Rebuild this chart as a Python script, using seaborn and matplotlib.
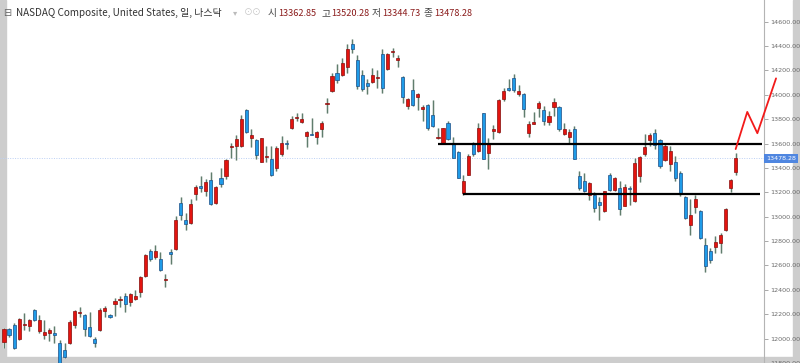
import numpy as np
import matplotlib
matplotlib.use("Agg")
import matplotlib.pyplot as plt
import matplotlib.transforms as mtransforms
from matplotlib.patches import Rectangle
from matplotlib.ticker import FormatStrFormatter
import seaborn as sns

# daily OHLC, oldest first
opens = [
    11973, 12080, 12109, 12000, 12109, 12104, 12236, 12060, 12033, 12044,
    12047, 11965, 11910, 11967, 12109, 12210, 12197, 12099, 11998, 12071,
    12230, 12197, 12282, 12320, 12353, 12301, 12326, 12383, 12511, 12717,
    12667, 12654, 12482, 12709, 12736, 13114, 12971, 12950, 13190, 13248,
    13207, 13303, 13114, 13316, 13332, 13571, 13579, 13579, 13872, 13648,
    13628, 13451, 13488, 13475, 13398, 13511, 13601, 13727, 13806, 13779,
    13661, 13681, 13653, 13718, 13924, 14030, 14178, 14159, 14231, 14414,
    14288, 14159, 14094, 14104, 14135, 14332, 14208, 14351, 14288, 14149,
    13907, 14036, 13981, 13883, 13913, 13831, 13642, 13601, 13771, 13598,
    13533, 13196, 13346, 13601, 13538, 13847, 13519, 13702, 13694, 13968,
    14053, 14140, 14003, 14003, 13683, 13763, 13888, 13872, 13779, 13899,
    13902, 13675, 13656, 13722, 13338, 13291, 13182, 13182, 13121, 13045,
    13346, 13218, 13237, 13092, 13232, 13127, 13332, 13511, 13628, 13683,
    13626, 13464, 13429, 13447, 13360, 13160, 12936, 13081, 13045, 12772,
    12717, 12753, 12786, 12889, 13237, 13362.85,
]
highs = [
    12090, 12090, 12129, 12172, 12213, 12158, 12244, 12195, 12156, 12088,
    12101, 11992, 11965, 12150, 12238, 12260, 12203, 12216, 12011, 12249,
    12271, 12205, 12334, 12347, 12375, 12375, 12402, 12511, 12698, 12736,
    12766, 12714, 12531, 12739, 13004, 13163, 13032, 13149, 13264, 13338,
    13311, 13371, 13256, 13396, 13475, 13607, 13669, 13837, 13880, 13722,
    13640, 13648, 13579, 13579, 13579, 13661, 13628, 13825, 13847, 13853,
    13702, 13812, 13702, 13784, 13976, 14181, 14250, 14305, 14414, 14461,
    14323, 14203, 14126, 14217, 14203, 14373, 14340, 14387, 14326, 14153,
    13976, 14132, 14017, 13913, 13921, 13954, 13730, 13730, 13782, 13653,
    13538, 13346, 13516, 13612, 13771, 13853, 13648, 13749, 13968, 14058,
    14126, 14167, 14077, 14017, 13784, 13858, 13948, 13907, 13866, 13976,
    13907, 13771, 13716, 13743, 13374, 13360, 13283, 13201, 13160, 13215,
    13360, 13327, 13291, 13270, 13256, 13484, 13497, 13675, 13689, 13722,
    13634, 13593, 13579, 13497, 13374, 13168, 13147, 13182, 13059, 12827,
    12745, 12840, 12868, 13073, 13311, 13520.28,
]
lows = [
    11926, 12014, 11918, 11992, 12074, 12060, 12148, 12047, 11998, 11984,
    11965, 11760, 11842, 11959, 12088, 12178, 12019, 12014, 11929, 12066,
    12175, 12170, 12183, 12257, 12216, 12265, 12320, 12342, 12507, 12635,
    12657, 12555, 12424, 12613, 12731, 12977, 12895, 12944, 13141, 13201,
    13174, 13100, 13108, 13245, 13311, 13484, 13464, 13574, 13689, 13574,
    13470, 13447, 13447, 13338, 13374, 13502, 13552, 13722, 13784, 13771,
    13574, 13667, 13593, 13656, 13853, 14025, 14099, 14153, 14181, 14340,
    14044, 14030, 14009, 14099, 14053, 14017, 14203, 14313, 14231, 13929,
    13886, 13907, 13874, 13784, 13708, 13738, 13634, 13595, 13628, 13478,
    13314, 13182, 13341, 13497, 13533, 13470, 13388, 13634, 13689, 13948,
    14030, 14025, 13989, 13820, 13653, 13757, 13820, 13749, 13749, 13825,
    13702, 13667, 13607, 13470, 13223, 13201, 13135, 13037, 12977, 13037,
    13209, 13209, 13018, 13086, 13100, 13119, 13283, 13497, 13579, 13552,
    13401, 13456, 13374, 13291, 13168, 12983, 12854, 13032, 12819, 12548,
    12622, 12704, 12704, 12881, 13201, 13344.73,
]
closes = [
    12082, 12030, 11924, 12164, 12121, 12154, 12154, 12156, 12055, 12071,
    12033, 11790, 11846, 12140, 12230, 12215, 12082, 12019, 11961, 12238,
    12255, 12175, 12310, 12326, 12285, 12367, 12347, 12507, 12690, 12657,
    12722, 12561, 12490, 12698, 12977, 13018, 12938, 13106, 13245, 13234,
    13281, 13106, 13245, 13267, 13467, 13582, 13634, 13798, 13697, 13672,
    13505, 13642, 13500, 13344, 13566, 13601, 13595, 13798, 13820, 13804,
    13691, 13672, 13694, 13773, 13929, 14153, 14124, 14258, 14373, 14373,
    14071, 14044, 14071, 14159, 14143, 14058, 14332, 14359, 14299, 13984,
    13968, 13915, 14009, 13897, 13724, 13746, 13656, 13724, 13640, 13484,
    13319, 13297, 13502, 13511, 13730, 13475, 13593, 13716, 13956, 14030,
    14042, 14039, 14030, 13886, 13757, 13776, 13929, 13782, 13825, 13938,
    13716, 13716, 13694, 13475, 13232, 13209, 13278, 13073, 13096, 13209,
    13223, 13314, 13065, 13242, 13226, 13437, 13492, 13574, 13669, 13585,
    13415, 13579, 13543, 13319, 13196, 12991, 13018, 13147, 12827, 12594,
    12643, 12794, 12848, 13065, 13300, 13478.28,
]

last_price = 13478.28
resistance = 13600
support = 13188
resistance_span = (86, 150.2)
support_span = (91, 149.8)
proj_x = [145, 147.3, 149.3, 153]
proj_y = [13555, 13860, 13685, 14135]
y_ticks = np.arange(11800, 14601, 200)

title = "NASDAQ Composite, United States, 일, 나스닥"
ohlc_labels = ["시", "고", "저", "종"]
ohlc_values = [13362.85, 13520.28, 13344.73, 13478.28]

sns.set_theme(style="white")
plt.rcParams["font.family"] = ["DejaVu Sans"]

W, H = 800, 363
step = 5.046  # px per candle
fig = plt.figure(figsize=(W / 100, H / 100), dpi=100)
fig.patch.set_facecolor("white")
ax = fig.add_axes([0, 0, 764 / W, 1])
ax.set_facecolor("none")
ax.set_xlim(-4 / step, 760 / step)
ax.set_ylim(11803, 14778)

# window frame
fig.add_artist(Rectangle((0, 0), 6 / W, 1, transform=fig.transFigure,
                         color="#cdcdcd", zorder=-1))
fig.add_artist(Rectangle((0, 0), 793 / W, 6 / H, transform=fig.transFigure,
                         color="#cdcdcd", zorder=-1))
fig.add_artist(Rectangle((793 / W, 0), 7 / W, 1, transform=fig.transFigure,
                         color="#cdcdcd", zorder=-1))

o = np.array(opens)
h = np.array(highs)
lo = np.array(lows)
c = np.array(closes)
idx = np.arange(len(o))
up = c >= o

ax.axhline(last_price, color="#bcd0f4", lw=0.7, ls=(0, (1, 1.5)), zorder=1)

ax.vlines(idx, lo, h, color="#d3dbd6", lw=2.0, zorder=2)
ax.vlines(idx, lo, h, color="#5d7a6a", lw=0.7, zorder=3)
body = np.maximum(np.abs(c - o), 9)
bottom = (o + c) / 2 - body / 2
ax.bar(idx[up], body[up], bottom=bottom[up], width=0.62, color="#e3140f",
       edgecolor="#8a0e0e", linewidth=0.5, zorder=4)
ax.bar(idx[~up], body[~up], bottom=bottom[~up], width=0.62, color="#1f9be8",
       edgecolor="#1d4f85", linewidth=0.5, zorder=4)

# drawn support / resistance and projected path
ax.hlines(resistance, *resistance_span, color="black", lw=1.6, zorder=5)
ax.hlines(support, *support_span, color="black", lw=1.6, zorder=5)
sns.lineplot(x=proj_x, y=proj_y, sort=False, estimator=None, color="#f21a1a",
             lw=1.3, ax=ax, zorder=6)
ax.lines[-1].set_clip_on(False)

# right price scale
ax.yaxis.tick_right()
ax.set_yticks(y_ticks)
ax.yaxis.set_major_formatter(FormatStrFormatter("%.2f"))
ax.tick_params(axis="y", right=True, length=3, width=0.6, color="#9a9a9a",
               labelsize=4.6, labelcolor="#6a6a6a", pad=1.5)
ax.set_xticks([])
for side in ["top", "left", "bottom"]:
    ax.spines[side].set_visible(False)
ax.spines["right"].set_color("#b4b4b4")
ax.spines["right"].set_linewidth(0.8)

trans = mtransforms.blended_transform_factory(ax.transAxes, ax.transData)
ax.text(1.003, last_price, f"{last_price:.2f}", transform=trans, ha="left",
        va="center", fontsize=4.6, color="white", clip_on=False, zorder=7,
        bbox=dict(boxstyle="square,pad=0.3", fc="#4f86e0", ec="none"))

# header
fam = ["Noto Sans CJK KR", "DejaVu Sans"]
ty = 1 - 13 / H
fig.text(3 / W, ty, "⊟", family=fam, fontsize=7, color="#666", va="center")
fig.text(16 / W, ty, title, family=fam, fontsize=7.15, color="#333", va="center")
fig.text(233 / W, ty, "▾", family=fam, fontsize=6, color="#bbb", va="center")
fig.text(244 / W, ty, "⊙⊙", family=fam, fontsize=6.5, color="#c8c8c8", va="center")
label_x = [268, 321, 372, 424]
for lx, lab, val in zip(label_x, ohlc_labels, ohlc_values):
    fig.text(lx / W, ty, lab, family=fam, fontsize=7, color="#444", va="center")
    fig.text((lx + 10) / W, ty, f"{val:.2f}", family=fam, fontsize=6.6,
             color="#8b1c1c", va="center")

fig.savefig("out.png", dpi=100)
